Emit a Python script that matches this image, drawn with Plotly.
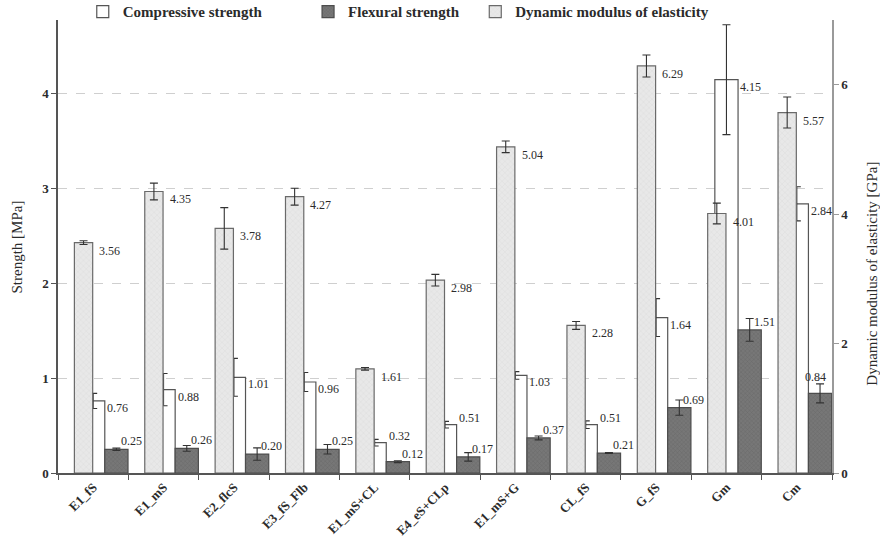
import plotly.graph_objects as go

# Mixtures tested
categories = ["E1_fS", "E1_mS", "E2_flcS", "E3_fS_Flb", "E1_mS+CL", "E4_eS+CLp",
              "E1_mS+G", "CL_fS", "G_fS", "Gm", "Cm"]

# Compressive strength [MPa] and its spread
compressive = [0.76, 0.88, 1.01, 0.96, 0.32, 0.51, 1.03, 0.51, 1.64, 4.15, 2.84]
compressive_err = [0.08, 0.17, 0.20, 0.10, 0.035, 0.035, 0.04, 0.04, 0.20, 0.58, 0.18]

# Flexural strength [MPa] and its spread
flexural = [0.25, 0.26, 0.20, 0.25, 0.12, 0.17, 0.37, 0.21, 0.69, 1.51, 0.84]
flexural_err = [0.012, 0.03, 0.065, 0.05, 0.01, 0.045, 0.02, 0.005, 0.08, 0.12, 0.10]

# Dynamic modulus of elasticity [GPa] and its spread
dynamic = [3.56, 4.35, 3.78, 4.27, 1.61, 2.98, 5.04, 2.28, 6.29, 4.01, 5.57]
dynamic_err = [0.03, 0.13, 0.32, 0.13, 0.02, 0.09, 0.09, 0.06, 0.17, 0.16, 0.24]

SERIF = "Liberation Serif"
TXT = "#2b2b2b"

Y_MAX = 4.78       # strength axis top
Y2_MAX = 7.0       # modulus axis top
PLOT_H = 543 - 20 - 70

# bar geometry within a category (category units)
W_MAIN = 0.33
W_DYN = 0.26
OFF_COMP = -W_MAIN / 2
OFF_FLEX = W_MAIN / 2
OFF_DYN = -0.007 - W_DYN

# extra spacing between legend entries
NBSP = "\u00a0"

err_style = dict(type="data", color="#333333", thickness=1.1, width=4)

fig = go.Figure()

fig.add_trace(go.Bar(
    x=categories, y=compressive, name="Compressive strength" + NBSP * 11,
    offset=OFF_COMP, width=W_MAIN, yaxis="y",
    marker=dict(color="white", line=dict(color="#555555", width=1.2)),
    error_y=dict(array=compressive_err, **err_style),
))

fig.add_trace(go.Bar(
    x=categories, y=flexural, name="Flexural strength" + NBSP * 3,
    offset=OFF_FLEX, width=W_MAIN, yaxis="y",
    marker=dict(color="#747474", line=dict(color="#4d4d4d", width=1.2),
                pattern=dict(shape="x", fgcolor="#5a5a5a", bgcolor="#777777",
                             size=3, solidity=0.3)),
    error_y=dict(array=flexural_err, **err_style),
))

fig.add_trace(go.Bar(
    x=categories, y=dynamic, name="Dynamic modulus of elasticity",
    offset=OFF_DYN, width=W_DYN, yaxis="y2",
    marker=dict(color="#e4e4e4", line=dict(color="#6a6a6a", width=1.2),
                pattern=dict(shape="x", fgcolor="#d2d2d2", bgcolor="#e8e8e8",
                             size=4, solidity=0.25)),
    error_y=dict(array=dynamic_err, **err_style),
))

# value labels
label_font = dict(family=SERIF, size=12, color=TXT)
annotations = []
n = len(categories)
for i in range(n):
    annotations.append(dict(
        x=i + 0.06, y=dynamic[i], xref="x", yref="y2", text=f"{dynamic[i]:.2f}",
        showarrow=False, xanchor="left", yanchor="middle", yshift=-8, font=label_font))
    # low compressive bars get their label above the bar top
    cshift = 7 if compressive[i] < 0.6 else -7
    annotations.append(dict(
        x=i + 0.17, y=compressive[i], xref="x", yref="y", text=f"{compressive[i]:.2f}",
        showarrow=False, xanchor="left", yanchor="middle", yshift=cshift, font=label_font))
    if i == n - 1:
        fx, anchor = i + 0.44, "right"
        fshift = 7 + flexural_err[i] / Y_MAX * PLOT_H
    else:
        fx, anchor = i + 0.36, "left"
        fshift = 8
    annotations.append(dict(
        x=fx, y=flexural[i], xref="x", yref="y", text=f"{flexural[i]:.2f}",
        showarrow=False, xanchor=anchor, yanchor="middle", yshift=fshift, font=label_font))

# axis titles
title_font = dict(family=SERIF, size=15, color=TXT)
annotations.append(dict(
    x=-0.053, y=0.50, xref="paper", yref="paper", text="Strength [MPa]",
    textangle=-90, showarrow=False, xanchor="center", yanchor="middle", font=title_font))
annotations.append(dict(
    x=1.0517, y=0.44, xref="paper", yref="paper", text="Dynamic modulus of elasticity [GPa]",
    textangle=-90, showarrow=False, xanchor="center", yanchor="middle", font=title_font))

tick_font = dict(family=SERIF, size=13, color=TXT, weight="bold")

fig.update_layout(
    width=880, height=543,
    margin=dict(l=58, r=48, t=20, b=70, autoexpand=False),
    paper_bgcolor="white", plot_bgcolor="white",
    barmode="overlay",
    showlegend=True,
    legend=dict(orientation="h", x=0.032, xanchor="left", y=1.018, yanchor="middle",
                font=dict(family=SERIF, size=15, color=TXT, weight="bold"),
                bgcolor="rgba(0,0,0,0)", itemwidth=30, traceorder="normal"),
    xaxis=dict(type="category", range=[-0.5, n - 0.5], showline=True, linecolor="#555555",
               linewidth=1.5, ticks="outside", tickson="boundaries", ticklen=5,
               tickcolor="#555555", tickangle=-45, tickfont=tick_font, showgrid=False),
    yaxis=dict(range=[0, Y_MAX], tickvals=[0, 1, 2, 3, 4], showgrid=True, griddash="dash",
               gridcolor="#cfcfcf", gridwidth=1, showline=True, linecolor="#555555",
               linewidth=1.5, ticks="outside", ticklen=5, tickcolor="#555555",
               tickfont=tick_font, zeroline=False),
    yaxis2=dict(range=[0, Y2_MAX], tickvals=[0, 2, 4, 6], overlaying="y", side="right",
                showgrid=False, showline=True, linecolor="#9a9a9a", linewidth=1.5,
                ticks="outside", ticklen=5, tickcolor="#9a9a9a", tickfont=tick_font,
                zeroline=False),
    annotations=annotations,
)

fig.write_html("out.html")
